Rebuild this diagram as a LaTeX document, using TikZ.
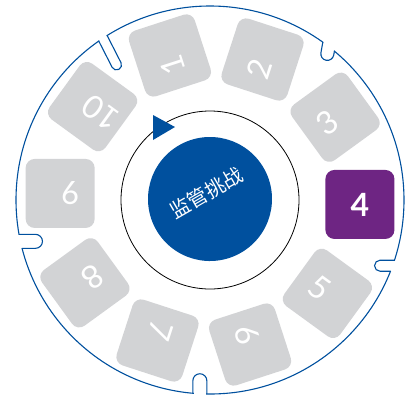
\documentclass[tikz,border=0pt]{standalone}
\usepackage{fontspec}
\setmainfont{Lato}
\newfontfamily\cjkfont{Noto Sans CJK SC}
\definecolor{hubblue}{RGB}{0,80,158}
\definecolor{tilegray}{RGB}{210,211,213}
\definecolor{tilepurple}{RGB}{110,37,131}

\begin{document}
\begin{tikzpicture}[x=1pt,y=1pt,
		ring/.style={draw=hubblue,line width=1.1pt},
		tile/.style={fill=tilegray,rounded corners=9pt,minimum size=69pt,inner sep=0pt,
			text=white,font=\fontsize{32}{32}\selectfont},
		every circle node/.style={inner sep=0pt}]
		
		\useasboundingbox (-210,-200) rectangle (204,200);
		\draw[ring] (0,0) circle (194);
		% notches in the rim
		\foreach \ang/\dir/\dep/\wid in {123.5/-63/35/10,52.3/-100/14/13,-19.8/180/18/11,-93/90/20/14,192.3/0/22/14}{
			\fill[white,shift={(\ang:194)},rotate=\dir] (-5,-\wid/2+0.7) rectangle (\dep-\wid/2,\wid/2-0.7);
			\begin{scope}
				\clip (0,0) circle (194);
				\draw[ring,shift={(\ang:194)},rotate=\dir] (-5,-\wid/2) -- (\dep-\wid/2,-\wid/2) arc (-90:90:\wid/2) -- (-5,\wid/2);
			\end{scope}
		}
		
		\draw[line width=0.8pt] (0,0) circle (89);
		\fill[hubblue] (-57,85) -- (-57,60) -- (-35,73) -- cycle;
		\node[circle,fill=hubblue,minimum size=124pt,rotate=30,text=white,
			font=\cjkfont\fontsize{20}{20}\selectfont] (hub) at (0,1) {\raisebox{0pt}[0pt][0pt]{监管挑战}};
		
		\foreach \k in {1,2,3,5,6,7,8,9,10}{
			\pgfmathsetmacro\rot{(4-\k)*36}
			\node[tile,rotate=\rot] (tile\k) at (\rot-2.5:150) {\k\rule{20pt}{0pt}};
		}
		\node[tile,fill=tilepurple,font=\fontsize{32}{32}\selectfont\bfseries] (tile4) at (-1.7:150) {4};
\end{tikzpicture}
\end{document}
